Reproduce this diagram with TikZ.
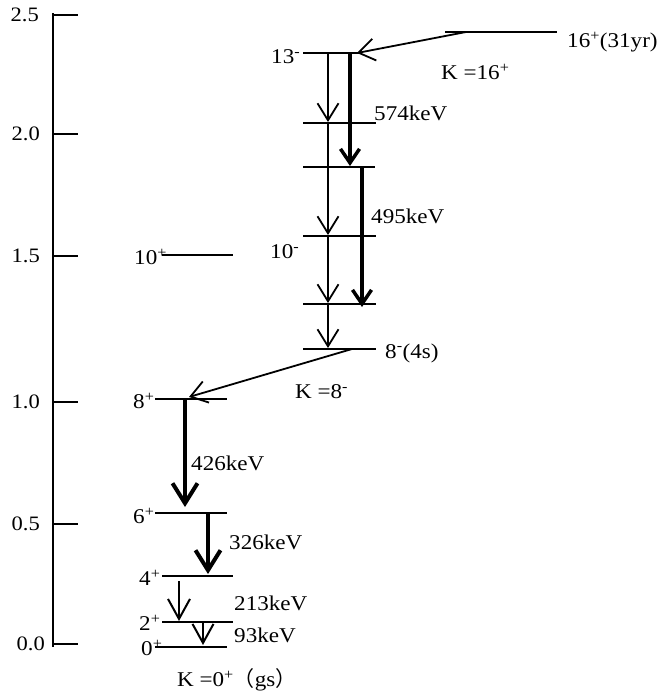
\documentclass[tikz,border=0pt]{standalone}
\usepackage{fontspec}
\setmainfont{Liberation Serif}[FakeStretch=1.1]
\newfontfamily\cjk{Noto Sans CJK SC}
\usetikzlibrary{arrows.meta}
\begin{document}
\begin{tikzpicture}[x=1pt,y=-1pt,
  lvl/.style={line width=2.2pt},
  lbl/.style={inner sep=0pt, font=\fontsize{21}{24}\selectfont},
  axl/.style={inner sep=0pt, font=\fontsize{20.5}{24}\selectfont},
  garrow/.style={line width=1.8pt,-{Straight Barb[length=17pt,width=21pt]}},
  gslant/.style={line width=1.8pt,-{Straight Barb[length=16pt,width=22pt]}},
  gmid/.style={line width=3.5pt,-{Straight Barb[length=14pt,width=19pt]}},
  gheavy/.style={line width=4pt,-{Straight Barb[length=20pt,width=25pt]}},
  gsmall/.style={line width=2pt,-{Straight Barb[length=20pt,width=22pt]}},
]
\useasboundingbox (0,0) rectangle (659,696);
% axis
\coordinate (axtop) at (53,13);
\coordinate (axbot) at (53,647);
\draw[lvl] (axtop) -- (axbot);
\foreach \y/\t/\xr [count=\i] in {15/2.5/39,134/2.0/40,256/1.5/40,402/1.0/40,524/0.5/40,644/0.0/45}{
  \draw[lvl] (53,\y) -- (78,\y);
  \node[axl,anchor=east] (tick\i) at (\xr,\y) {\t};
}
% levels
\coordinate (l16a) at (445,32);  \coordinate (l16b) at (557,32);
\coordinate (l13a) at (303,53);  \coordinate (l13b) at (359,53);
\coordinate (lAa) at (303,123);  \coordinate (lAb) at (376,123);
\coordinate (lBa) at (303,167);  \coordinate (lBb) at (375,167);
\coordinate (l10a) at (303,236); \coordinate (l10b) at (376,236);
\coordinate (lCa) at (303,304);  \coordinate (lCb) at (376,304);
\coordinate (l8ma) at (303,349); \coordinate (l8mb) at (376,349);
\coordinate (l10pa) at (162,255); \coordinate (l10pb) at (233,255);
\coordinate (l8pa) at (155,399); \coordinate (l8pb) at (227,399);
\coordinate (l6a) at (155,513);  \coordinate (l6b) at (227,513);
\coordinate (l4a) at (162,576);  \coordinate (l4b) at (233,576);
\coordinate (l2a) at (162,622);  \coordinate (l2b) at (233,622);
\coordinate (l0a) at (155,647);  \coordinate (l0b) at (227,647);
\foreach \p in {l16,l13,lA,lB,l10,lC,l8m,l10p,l8p,l6,l4,l2,l0}{
  \draw[lvl] (\p a) -- (\p b);
}
% transitions
\coordinate (s16) at (466,32); \coordinate (e13) at (357,53);
\draw[gslant] (s16) -- (e13);
\coordinate (a0) at (328,53);
\coordinate (a1) at (328,122);
\coordinate (a2) at (328,235);
\coordinate (a3) at (328,303);
\coordinate (a4) at (328,348);
\draw[garrow] (a0) -- (a1);
\draw[garrow] (a1) -- (a2);
\draw[garrow] (a2) -- (a3);
\draw[garrow] (a3) -- (a4);
\coordinate (b0) at (350,53);  \coordinate (b1) at (350,166);
\draw[gmid] (b0) -- (b1);
\coordinate (c0) at (362,167); \coordinate (c1) at (362,307);
\draw[gmid] (c0) -- (c1);
\coordinate (d0) at (352,349); \coordinate (d1) at (189,397);
\draw[gslant] (d0) -- (d1);
\coordinate (e0) at (185,399); \coordinate (e1) at (185,507);
\draw[gheavy] (e0) -- (e1);
\coordinate (f0) at (208,513); \coordinate (f1) at (208,574);
\draw[gheavy] (f0) -- (f1);
\coordinate (g0) at (179,581); \coordinate (g1) at (179,621);
\draw[gsmall] (g0) -- (g1);
\coordinate (h0) at (203,622); \coordinate (h1) at (203,645);
\draw[line width=2pt,-{Straight Barb[length=19pt,width=21pt]}] (h0) -- (h1);
% labels
\node[lbl,anchor=west] (n16) at (567,42) {16\textsuperscript{+}(31yr)};
\node[lbl,anchor=west] (k16) at (441,72) {K =16\textsuperscript{+}};
\node[lbl,anchor=west] (n13) at (271,57) {13\textsuperscript{-}};
\node[lbl,anchor=west] (e574) at (374,113) {574keV};
\node[lbl,anchor=west] (e495) at (371,216) {495keV};
\node[lbl,anchor=west] (n10m) at (270,252) {10\textsuperscript{-}};
\node[lbl,anchor=west] (n8m) at (385,353) {8\textsuperscript{-}(4s)};
\node[lbl,anchor=west] (k8) at (295,392) {K =8\textsuperscript{-}};
\node[lbl,anchor=west] (n10p) at (134,257) {10\textsuperscript{+}};
\node[lbl,anchor=west] (n8p) at (133,401) {8\textsuperscript{+}};
\node[lbl,anchor=west] (e426) at (191,463) {426keV};
\node[lbl,anchor=west] (n6p) at (133,516) {6\textsuperscript{+}};
\node[lbl,anchor=west] (e326) at (229,542) {326keV};
\node[lbl,anchor=west] (n4p) at (139,578) {4\textsuperscript{+}};
\node[lbl,anchor=west] (e213) at (234,603) {213keV};
\node[lbl,anchor=west] (n2p) at (139,623) {2\textsuperscript{+}};
\node[lbl,anchor=west] (e93) at (234,635) {93keV};
\node[lbl,anchor=west] (n0p) at (141,648) {0\textsuperscript{+}};
\node[lbl,anchor=west] (k0) at (177,680) {K =0\textsuperscript{+}{\cjk （}gs{\cjk ）}};
\end{tikzpicture}
\end{document}
